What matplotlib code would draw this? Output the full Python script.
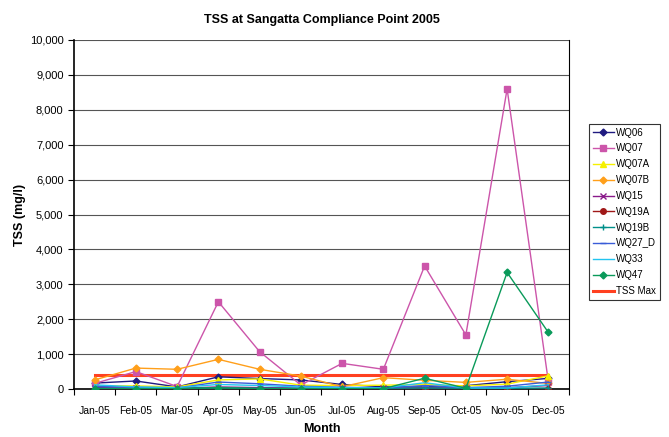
'''
TSS at Sangatta Compliance Point 2005
'''

import matplotlib
matplotlib.use('Agg')
import matplotlib.pyplot as plt
from matplotlib.ticker import FuncFormatter, MultipleLocator

plt.rcParams['font.family'] = ['Liberation Sans', 'DejaVu Sans']

months = ['Jan-05', 'Feb-05', 'Mar-05', 'Apr-05', 'May-05', 'Jun-05',
          'Jul-05', 'Aug-05', 'Sep-05', 'Oct-05', 'Nov-05', 'Dec-05']

# Values (mg/l)
wq06 = [170, 230, 60, 350, 300, 260, 130, 65, 60, 95, 210, 305]
wq07 = [160, 500, 70, 2500, 1070, 115, 735, 565, 3525, 1550, 8600, 210]
wq07a = [90, 90, 60, 260, 290, 110, 100, 110, 130, 90, 140, 380]
wq07b = [260, 600, 565, 850, 565, 370, 65, 325, 250, 190, 280, 160]
wq15 = [40, 30, 20, 60, 40, 30, 20, 20, 40, 30, 40, 100]
wq19a = [10, 10, 10, 10, 10, 10, 10, 10, 10, 10, 10, 10]
wq19b = [20, 20, 20, 30, 20, 20, 20, 20, 30, 20, 20, 30]
wq27_d = [80, 50, 30, 200, 150, 80, 50, 30, 100, 40, 80, 200]
wq33 = [120, 60, 40, 130, 100, 60, 40, 30, 180, 30, 30, 120]
wq47 = [10, 10, 10, 40, 10, 10, 10, 10, 310, 20, 3340, 1620]
tss_max = [400] * 12

series = [
    ('WQ06', wq06, '#1f1a80', 'D', 3.5),
    ('WQ07', wq07, '#cc55aa', 's', 5),
    ('WQ07A', wq07a, '#f5f000', '^', 5),
    ('WQ07B', wq07b, '#ff9f1a', 'D', 3.5),
    ('WQ15', wq15, '#8a1a8a', 'x', 4),
    ('WQ19A', wq19a, '#a01818', 'o', 4),
    ('WQ19B', wq19b, '#00908a', '+', 5),
    ('WQ27_D', wq27_d, '#3a5cd8', '_', 5),
    ('WQ33', wq33, '#22c4f0', None, 4),
    ('WQ47', wq47, '#0a9a5a', 'D', 3.5),
]

fig = plt.figure(figsize=(6.69, 4.37), dpi=100)
ax = fig.add_axes([0.1106, 0.1098, 0.7399, 0.7987])

x = list(range(len(months)))
for name, vals, color, marker, ms in series:
    ax.plot(x, vals, color=color, marker=marker, markersize=ms, linewidth=1,
            label=name, markeredgecolor=color, zorder=3)
ax.plot(x, tss_max, color='#ff4020', linewidth=2.2, label='TSS Max', zorder=2)

ax.set_xlim(-0.5, 11.5)
ax.set_ylim(0, 10000)
ax.yaxis.set_major_locator(MultipleLocator(1000))
ax.yaxis.set_major_formatter(FuncFormatter(lambda v, p: f'{int(v):,}'))
ax.set_xticks(x)
ax.set_xticklabels(months, fontsize=7.5)
ax.set_xticks([i - 0.5 for i in range(13)], minor=True)
ax.tick_params(axis='x', which='major', length=0, pad=12)
ax.tick_params(axis='x', which='minor', length=4, width=0.8)
ax.tick_params(axis='y', labelsize=8, length=4, width=0.8)
ax.grid(axis='y', color='#555555', linewidth=0.8, zorder=0)

ax.spines['top'].set_visible(False)
ax.spines['left'].set_linewidth(1.2)
ax.spines['bottom'].set_linewidth(1.2)
ax.spines['right'].set_linewidth(0.8)

ax.set_title('TSS at Sangatta Compliance Point 2005', fontsize=9, fontweight='bold', pad=12)
ax.set_xlabel('Month', fontsize=9, fontweight='bold', labelpad=5)
ax.set_ylabel('TSS (mg/l)', fontsize=9, fontweight='bold', labelpad=3)

leg = fig.legend(loc='upper left', bbox_to_anchor=(0.873, 0.728), fontsize=7,
                 frameon=True, fancybox=False, edgecolor='black',
                 handlelength=2.2, labelspacing=0.6, borderpad=0.4,
                 handletextpad=0.2)
leg.get_frame().set_linewidth(0.8)

fig.savefig('out.png', dpi=100)
